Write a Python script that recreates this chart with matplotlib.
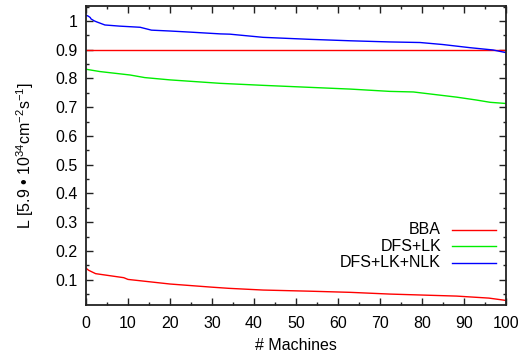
import matplotlib
matplotlib.use("Agg")
import matplotlib.pyplot as plt
from matplotlib.ticker import MultipleLocator
from matplotlib.lines import Line2D

plt.rcParams['font.family'] = ['Liberation Sans', 'DejaVu Sans']
plt.rcParams['mathtext.fontset'] = 'custom'
plt.rcParams['mathtext.rm'] = 'Liberation Sans'
plt.rcParams['mathtext.it'] = 'Liberation Sans:italic'
plt.rcParams['mathtext.default'] = 'regular'

# Data
bba_x = [0, 0.6, 1.3, 2.3, 9, 10, 15, 20, 30, 34, 42.2, 53.4, 63, 72.4, 88.3, 96, 100]
bba_y = [0.140, 0.133, 0.128, 0.121, 0.107, 0.101, 0.093, 0.085, 0.074, 0.070, 0.064, 0.060,
         0.056, 0.050, 0.043, 0.036, 0.028]
dfs_x = [0, 3.3, 10.5, 14, 20, 32, 42.2, 53.4, 63, 72.4, 78, 88.3, 93, 96.3, 100]
dfs_y = [0.832, 0.824, 0.812, 0.803, 0.795, 0.783, 0.776, 0.769, 0.763, 0.755, 0.753, 0.735,
         0.725, 0.717, 0.713]
nlk_x = [0, 0.5, 1, 1.2, 2, 2.5, 4.5, 8, 12.9, 15.6, 20, 25, 32, 34.3, 42.2, 53.4, 63, 70,
         72.4, 79.6, 85, 91.5, 97, 100]
nlk_y = [1.020, 1.017, 1.012, 1.007, 1.000, 0.997, 0.986, 0.982, 0.978, 0.968, 0.965, 0.961,
         0.955, 0.954, 0.943, 0.936, 0.931, 0.928, 0.927, 0.925, 0.918, 0.907, 0.899, 0.890]
ref_level = 0.9
labels = ["BBA", "DFS+LK", "DFS+LK+NLK"]
colors = ["#ff0000", "#00ee00", "#0000ff"]

FS = 11.5

fig = plt.figure(figsize=(5.24, 3.53), dpi=100)
ax = fig.add_axes([86/524, 1-305/353, (505.7-86)/524, (305-6)/353])

ax.axhline(ref_level, color=colors[0], lw=1.0)
ax.plot(bba_x, bba_y, color=colors[0], lw=1.0)
ax.plot(dfs_x, dfs_y, color=colors[1], lw=1.0)
ax.plot(nlk_x, nlk_y, color=colors[2], lw=1.0)

ax.set_xlim(0, 100)
ax.set_ylim(0.012, 1.052)
ax.xaxis.set_major_locator(MultipleLocator(10))
ax.xaxis.set_minor_locator(MultipleLocator(5))
ax.yaxis.set_major_locator(MultipleLocator(0.1))
ax.yaxis.set_minor_locator(MultipleLocator(0.05))
ax.yaxis.set_major_formatter(plt.FuncFormatter(lambda v, p: "1" if abs(v-1) < 1e-9 else f"{v:.1f}"))
ax.tick_params(which='both', direction='in', top=True, right=True, labelsize=FS, width=1.0, color='#222222')
ax.tick_params(axis='x', which='major', length=5, pad=8)
ax.tick_params(axis='y', which='major', length=5, pad=6)
ax.tick_params(which='minor', length=2.5)
for s in ax.spines.values():
    s.set_linewidth(1.3)
    s.set_color('#222222')

ax.set_xlabel("# Machines", fontsize=FS, labelpad=5)
ax.set_ylabel(r"L [5.9 • 10$^{34}$cm$^{-2}$s$^{-1}$]", fontsize=FS, labelpad=14)

# Legend (gnuplot style: right-aligned text, sample on the right)
leg_y = [229.5, 246, 262.7]
for lab, c, yy in zip(labels, colors, leg_y):
    yf = 1 - (yy - 6) / (305 - 6)
    x1 = (451.7 - 86) / (505.7 - 86)
    x2 = (496 - 86) / (505.7 - 86)
    xt = (441 - 86) / (505.7 - 86)
    ax.add_line(Line2D([x1, x2], [yf, yf], transform=ax.transAxes, color=c, lw=1.0))
    ax.text(xt, yf, lab, transform=ax.transAxes, ha='right', va='center', fontsize=FS)

fig.savefig("out.png", dpi=100)
